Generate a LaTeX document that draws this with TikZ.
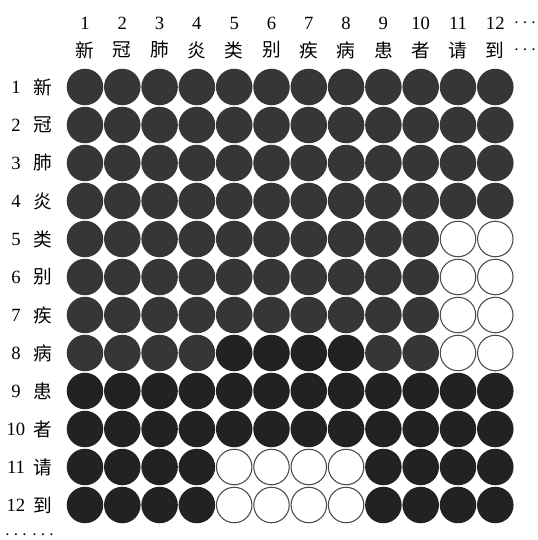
\documentclass[tikz,border=0pt]{standalone}
\usepackage{fontspec}
\setmainfont{Liberation Serif}
\newfontfamily\cjk{Noto Sans CJK SC}
\definecolor{dotgray}{HTML}{363636}
\definecolor{dotdark}{HTML}{222222}
\definecolor{holeline}{HTML}{4A4A4A}

\begin{document}
\begin{tikzpicture}[x=0.75pt,y=-0.75pt,
  dot/.style={circle,fill=dotgray,minimum size=27.4pt,inner sep=0pt},
  darkdot/.style={dot,fill=dotdark},
  hole/.style={circle,draw=holeline,line width=0.8pt,fill=white,minimum size=26.6pt,inner sep=0pt},
  lbl/.style={font=\fontsize{14}{16}\selectfont,inner sep=0pt}]
  \useasboundingbox (0,0) rectangle (537,540);
  % column and row labels
  \def\words{新,冠,肺,炎,类,别,疾,病,患,者,请,到}
  \foreach \w [count=\i] in \words {
    \node[lbl] (top\i) at ({85+37.3*(\i-1)},23) {\i};
    \node[lbl] (tw\i) at ({85+37.3*(\i-1)},50) {\cjk\w};
    \node[lbl] (left\i) at (16,{87+38*(\i-1)}) {\i};
    \node[lbl] (lw\i) at (43,{87+38*(\i-1)}) {\cjk\w};
  }
  \node[lbl] (topdots) at (525,23) {$\cdots$};
  \node[lbl] (twdots) at (525,50) {$\cdots$};
  \node[lbl] (leftdots) at (16,535) {$\cdots$};
  \node[lbl] (lwdots) at (43,535) {$\cdots$};
  % mask grid
  \foreach \r in {1,...,12}
    \foreach \c in {1,...,12} {
      \pgfmathtruncatemacro\ishole{(\r>4)*(\r<9)*(\c>10)+(\r>10)*(\c>4)*(\c<9)}
      \pgfmathtruncatemacro\isdark{(\r>8)+(\r==8)*(\c>4)*(\c<9)}
      \ifnum\ishole>0 \def\sty{hole}\else\ifnum\isdark>0 \def\sty{darkdot}\else\def\sty{dot}\fi\fi
      \node[\sty] (d-\r-\c) at ({85+37.3*(\c-1)},{87+38*(\r-1)}) {};
    }
\end{tikzpicture}
\end{document}
